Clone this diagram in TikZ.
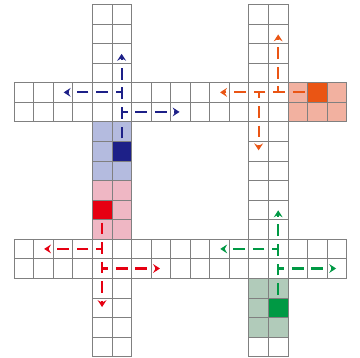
\documentclass[tikz,border=0pt]{standalone}
\usetikzlibrary{arrows.meta}
\definecolor{blueD}{HTML}{1D2088}
\definecolor{blueL}{HTML}{B4BBDF}
\definecolor{redD}{HTML}{E60012}
\definecolor{redL}{HTML}{EFB7C4}
\definecolor{orgD}{HTML}{EA5514}
\definecolor{orgL}{HTML}{F2B1A0}
\definecolor{grnD}{HTML}{009944}
\definecolor{grnL}{HTML}{B1CBBA}
\begin{document}
\begin{tikzpicture}[x=0.5cm,y=-0.5cm,
  gridline/.style={draw=black!50,line width=0.5pt,step=0.5cm},
  mainmove/.style={line width=1.5pt,dash pattern=on 0.3cm off 0.2cm,
    -{Stealth[length=5pt,width=6.4pt,inset=1.8pt]}},
  branchmove/.style={mainmove,dash phase=0.15cm}]
\useasboundingbox[fill=white] (-0.715,-0.22) rectangle (17.68,18.073);
% coloured blocks
\fill[blueL] (4,6) rectangle (6,9);
\fill[blueD] (5,7) rectangle (6,8);
\fill[redL] (4,9) rectangle (6,12);
\fill[redD] (4,10) rectangle (5,11);
\fill[orgL] (14,4) rectangle (17,6);
\fill[orgD] (15,4) rectangle (16,5);
\fill[grnL] (12,14) rectangle (14,17);
\fill[grnD] (13,15) rectangle (14,16);
% grid strips
\draw[gridline] (4,0) grid (6,18);
\draw[gridline] (12,0) grid (14,18);
\draw[gridline] (0,4) grid (17,6);
\draw[gridline] (0,12) grid (17,14);
% coordinates
\coordinate (bS) at (5.5,6.85);  \coordinate (bE) at (5.5,2.53);
\coordinate (bJ1) at (5.5,4.5);  \coordinate (bL) at (2.54,4.5);
\coordinate (bJ2) at (5.5,5.5);  \coordinate (bR) at (8.46,5.5);
\coordinate (oS) at (14.85,4.5); \coordinate (oE) at (10.53,4.5);
\coordinate (oJ1) at (13.5,4.5); \coordinate (oU) at (13.5,1.54);
\coordinate (oJ2) at (12.5,4.5); \coordinate (oD) at (12.5,7.46);
\coordinate (rS) at (4.5,11.15); \coordinate (rE) at (4.5,15.47);
\coordinate (rJ1) at (4.5,12.5); \coordinate (rL) at (1.54,12.5);
\coordinate (rJ2) at (4.5,13.5); \coordinate (rR) at (7.46,13.5);
\coordinate (gS) at (13.5,14.85); \coordinate (gE) at (13.5,10.53);
\coordinate (gJ1) at (13.5,12.5); \coordinate (gL) at (10.54,12.5);
\coordinate (gJ2) at (13.5,13.5); \coordinate (gR) at (16.46,13.5);
% moves
\draw[mainmove,blueD] (bS) -- (bE);
\draw[branchmove,blueD] (bJ1) -- (bL);
\draw[branchmove,blueD] (bJ2) -- (bR);
\draw[mainmove,orgD] (oS) -- (oE);
\draw[branchmove,orgD] (oJ1) -- (oU);
\draw[branchmove,orgD] (oJ2) -- (oD);
\draw[mainmove,redD] (rS) -- (rE);
\draw[branchmove,redD] (rJ1) -- (rL);
\draw[branchmove,redD] (rJ2) -- (rR);
\draw[mainmove,grnD] (gS) -- (gE);
\draw[branchmove,grnD] (gJ1) -- (gL);
\draw[branchmove,grnD] (gJ2) -- (gR);
\end{tikzpicture}
\end{document}
